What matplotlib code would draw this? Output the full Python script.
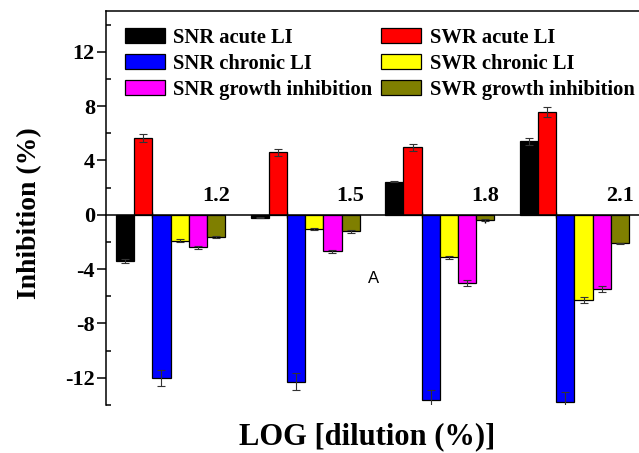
import numpy as np
import matplotlib
matplotlib.use('Agg')
import matplotlib.pyplot as plt
from matplotlib.ticker import MultipleLocator, FixedLocator

plt.rcParams['font.family'] = 'serif'
plt.rcParams['font.serif'] = ['Liberation Serif', 'DejaVu Serif']
plt.rcParams['font.weight'] = 'bold'
plt.rcParams['axes.unicode_minus'] = False

# data
dilution = ['1.2', '1.5', '1.8', '2.1']
labels = ['SNR acute LI', 'SWR acute LI', 'SNR chronic LI', 'SWR chronic LI',
          'SNR growth inhibition', 'SWR growth inhibition']
colors = ['#000000', '#ff0000', '#0000ff', '#ffff00', '#ff00ff', '#7f7f00']

snr_acute = [-3.4, -0.2, 2.45, 5.4]
snr_acute_err = [0.15, 0.05, 0.05, 0.25]
swr_acute = [5.67, 4.6, 4.96, 7.55]
swr_acute_err = [0.3, 0.25, 0.25, 0.37]
snr_chronic = [-12.0, -12.3, -13.6, -13.75]
snr_chronic_err = [0.6, 0.62, 0.7, 0.7]
swr_chronic = [-1.9, -1.05, -3.14, -6.28]
swr_chronic_err = [0.1, 0.05, 0.12, 0.25]
snr_growth = [-2.4, -2.7, -5.03, -5.47]
snr_growth_err = [0.12, 0.1, 0.2, 0.22]
swr_growth = [-1.62, -1.23, -0.39, -2.11]
swr_growth_err = [0.08, 0.08, 0.05, 0.05]

values = [snr_acute, swr_acute, snr_chronic, swr_chronic, snr_growth, swr_growth]
errors = [snr_acute_err, swr_acute_err, snr_chronic_err, swr_chronic_err,
          snr_growth_err, swr_growth_err]

bar_width = 1.0
group_step = 7.41
ind = np.arange(len(dilution)) * group_step

fig = plt.figure(figsize=(6.39, 4.53), dpi=100)
ax = fig.add_axes([0.1659, 0.106, 0.8341, 0.8697])

for k in range(6):
    ax.bar(ind + (k + 0.5) * bar_width, values[k], width=bar_width,
           color=colors[k], edgecolor='black', linewidth=0.9,
           label=labels[k], zorder=2)
    ax.errorbar(ind + (k + 0.5) * bar_width, values[k], yerr=errors[k],
                fmt='none', ecolor='#333333', elinewidth=0.8, capsize=3,
                capthick=0.8, zorder=3)

ax.set_xlim(-0.55, 28.78)
ax.set_ylim(-14, 15)

# spines
ax.spines['right'].set_visible(False)
ax.spines['bottom'].set_position(('data', 0))
for s in ['left', 'top', 'bottom']:
    ax.spines[s].set_linewidth(1.1)
ax.spines['bottom'].set_zorder(4)

# y axis
ax.set_yticks([-12, -8, -4, 0, 4, 8, 12])
ax.yaxis.set_minor_locator(FixedLocator([-14, -10, -6, -2, 2, 6, 10, 14]))
ax.tick_params(axis='y', which='major', direction='out', length=6.5, width=1.1,
               labelsize=16, pad=1.5)
ax.tick_params(axis='y', which='minor', direction='in', length=3.5, width=1.1)

# x axis at zero, labels above the line
ax.set_xticks(ind + 5.5 * bar_width)
ax.set_xticklabels(dilution)
ax.xaxis.set_minor_locator(FixedLocator(ind + 2 * bar_width))
ax.tick_params(axis='x', which='major', direction='out', length=6, width=1.0,
               labelsize=16, pad=-26.6)
ax.tick_params(axis='x', which='minor', direction='inout', length=4, width=1.0)

ax.set_ylabel('Inhibition (%)', fontsize=20, fontweight='bold')
ax.yaxis.set_label_coords(-0.12, 0.487)
ax.set_xlabel('LOG [dilution (%)]', fontsize=22, fontweight='bold')
ax.xaxis.set_label_coords(0.49, -0.045)

ax.text(0.501, 0.322, 'A', transform=ax.transAxes, ha='center', va='center',
        fontsize=12, fontweight='normal', family='Liberation Sans')

handles, labs = ax.get_legend_handles_labels()
order = [0, 2, 4, 1, 3, 5]
ax.legend([handles[i] for i in order], [labs[i] for i in order],
          loc='upper left', bbox_to_anchor=(0.035, 0.958), ncol=2,
          frameon=False, prop={'weight': 'bold', 'size': 14.8},
          handlelength=1.95, handleheight=0.7, handletextpad=0.4,
          labelspacing=0.3, columnspacing=0.45, borderaxespad=0, borderpad=0)

plt.savefig('out.png', dpi=100)
